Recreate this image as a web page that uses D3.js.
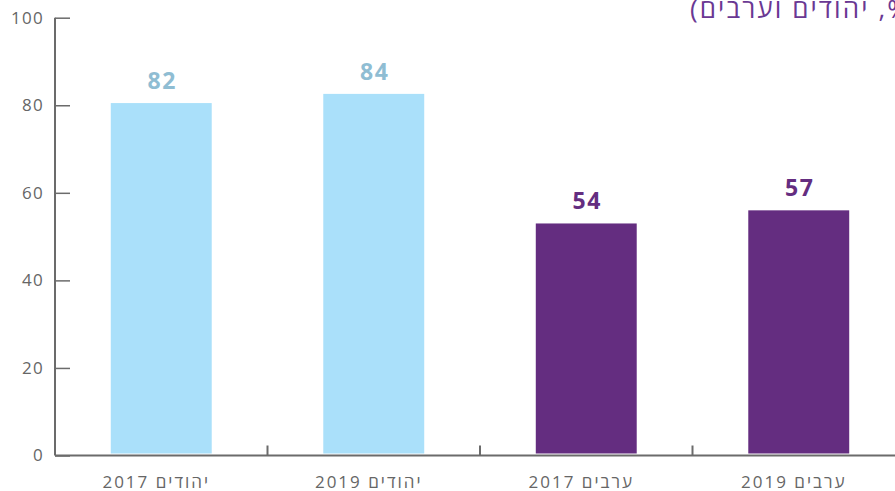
<!DOCTYPE html>
<html>
<head>
<meta charset="utf-8">
<script src="https://cdn.jsdelivr.net/npm/d3@7"></script>
<style>
  body { margin: 0; background: #fff; overflow: hidden; }
  text { font-family: "Open Sans", sans-serif; }
</style>
</head>
<body>
<div id="chart"></div>
<script>
// data
var categories = ["יהודים 2017", "יהודים 2019", "ערבים 2017", "ערבים 2019"];
var values = [80.5, 82.6, 53.0, 56.0];
var valueLabels = ["82", "84", "54", "57"];
var groups = ["jews", "jews", "arabs", "arabs"];
var yTicks = [0, 20, 40, 60, 80, 100];
var title = "(%, יהודים וערבים)";

var barColor = { jews: "#aae0fa", arabs: "#642d80" };
var labelColor = { jews: "#8fbdd3", arabs: "#642d80" };

var margin = {top: 17.7, right: 0, bottom: 35.5, left: 55},
    width = 895 - margin.left - margin.right,
    height = 491 - margin.top - margin.bottom;

var svg = d3.select("#chart").append("svg")
    .attr("width", 895)
    .attr("height", 491)
    .append("g")
    .attr("transform", "translate(" + margin.left + "," + margin.top + ")");

// the band range runs a bit past the right edge, like the original
var x = d3.scaleBand()
    .domain(categories)
    .range([0, 850])
    .paddingInner(0.525)
    .paddingOuter(0.2625);

var y = d3.scaleLinear().domain([0, 100]).range([height, 0]);

// bars
svg.selectAll(".bar")
    .data(values)
    .enter()
    .append("rect")
    .attr("class", "bar")
    .attr("x", function(d, i) { return x(categories[i]); })
    .attr("width", x.bandwidth())
    .attr("y", function(d) { return y(d); })
    .attr("height", function(d) { return y(0) - y(d) - 2; })
    .style("fill", function(d, i) { return barColor[groups[i]]; });

// value labels
svg.selectAll(".val")
    .data(values)
    .enter()
    .append("text")
    .attr("class", "val")
    .attr("x", function(d, i) { return x(categories[i]) + x.bandwidth() / 2 + 1; })
    .attr("y", function(d) { return y(d) - 14; })
    .attr("text-anchor", "middle")
    .style("font-size", "23px")
    .style("font-weight", "bold")
    .style("letter-spacing", "1.5px")
    .style("fill", function(d, i) { return labelColor[groups[i]]; })
    .text(function(d, i) { return valueLabels[i]; });

// y axis
var yAxis = svg.append("g")
    .call(d3.axisRight(y).tickValues(yTicks).tickSize(15).tickFormat(d3.format("d")));
yAxis.select(".domain").attr("d", "M0," + y(100) + "V" + y(0))
    .style("stroke", "#6b6b6b").style("stroke-width", 2);
yAxis.selectAll(".tick line").style("stroke", "#6b6b6b").style("stroke-width", 1.5);
yAxis.selectAll(".tick text")
    .attr("x", -11)
    .attr("text-anchor", "end")
    .style("font-size", "17px")
    .style("letter-spacing", "1.3px")
    .style("fill", "#666")
    .style("font-family", "Open Sans, sans-serif");

// x axis
var step = x.step();
var xAxis = svg.append("g")
    .attr("transform", "translate(0," + height + ")");
xAxis.append("line")
    .attr("x1", 0).attr("x2", width)
    .style("stroke", "#6b6b6b").style("stroke-width", 2);
xAxis.selectAll(".sep")
    .data(categories.slice(1))
    .enter()
    .append("line")
    .attr("class", "sep")
    .attr("x1", function(d) { return x(d) - x.paddingInner() * step / 2; })
    .attr("x2", function(d) { return x(d) - x.paddingInner() * step / 2; })
    .attr("y1", -10).attr("y2", 0)
    .style("stroke", "#6b6b6b").style("stroke-width", 2);
xAxis.selectAll(".cat")
    .data(categories)
    .enter()
    .append("text")
    .attr("class", "cat")
    .attr("x", function(d) { return x(d) + x.bandwidth() / 2 - 5; })
    .attr("y", 32.5)
    .attr("text-anchor", "middle")
    .style("font-size", "17px")
    .style("letter-spacing", "2px")
    .style("fill", "#666")
    .text(function(d) { return d; });

// title, cut off at the right edge
svg.append("text")
    .attr("x", 690 - margin.left)
    .attr("y", 0.5)
    .attr("direction", "rtl")
    .attr("text-anchor", "end")
    .style("font-size", "26px")
    .style("letter-spacing", "2.1px")
    .style("fill", "#6a3893")
    .text(title);
</script>
</body>
</html>
